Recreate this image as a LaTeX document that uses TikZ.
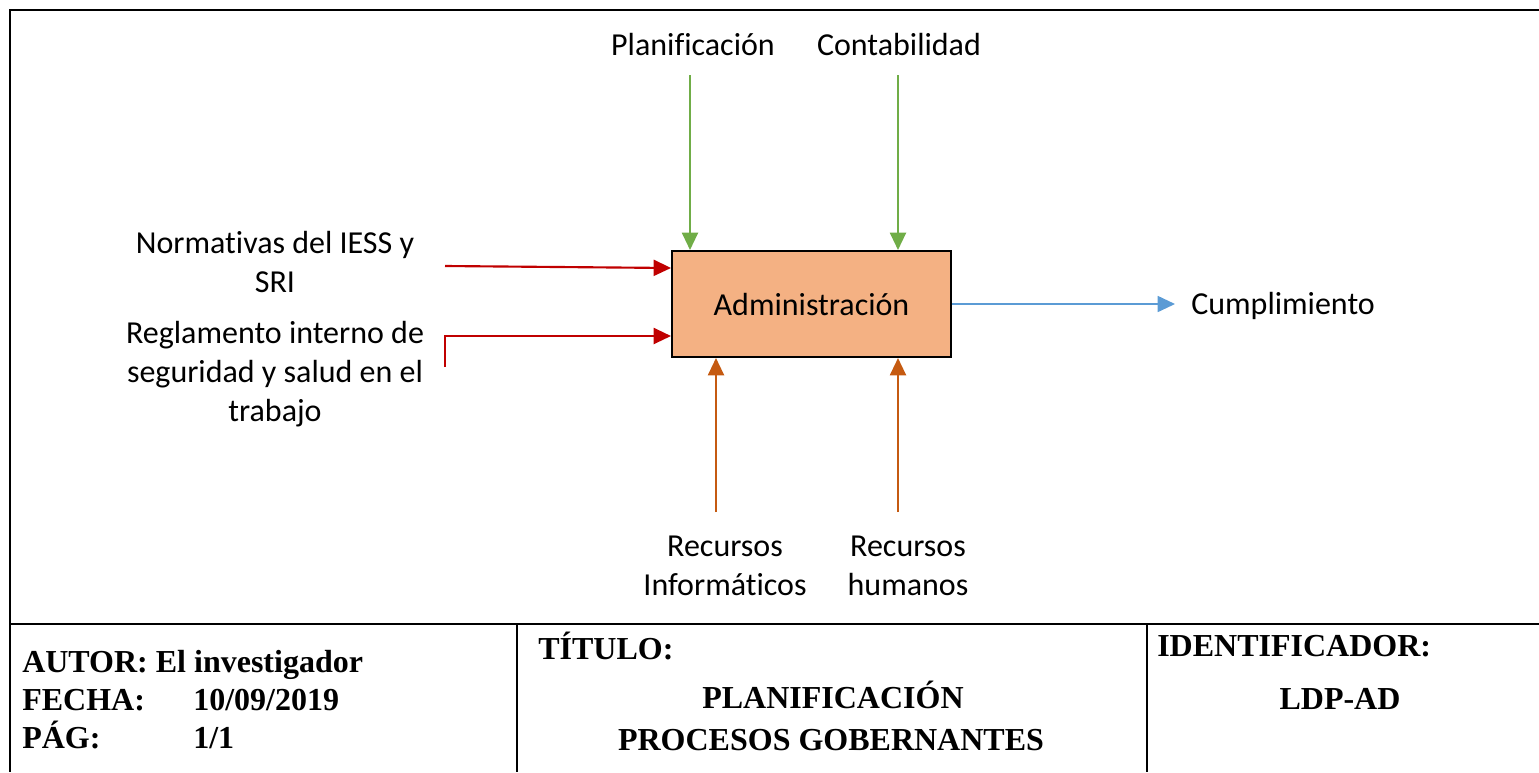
\documentclass[tikz,border=0pt]{standalone}
\usepackage{fontspec}
\setmainfont{Liberation Serif}
\newfontfamily\calibri[Ligatures=NoCommon]{Carlito}
\usepackage{tikz}
\usetikzlibrary{arrows.meta,positioning}
\definecolor{boxfill}{HTML}{F4B183}
\definecolor{ctrlgreen}{HTML}{70AD47}
\definecolor{inred}{HTML}{C00000}
\definecolor{mechorange}{HTML}{C55A11}
\definecolor{outblue}{HTML}{5B9BD5}

\begin{document}
\begin{tikzpicture}[x=0.75pt, y=-0.75pt,
        lbl/.style={inner sep=0pt, align=center, font=\calibri\fontsize{24}{29.25}\selectfont},
        tbl/.style={inner sep=0pt, font=\bfseries\fontsize{24}{28.5}\selectfont},
        proc/.style={draw, line width=1.5pt, fill=boxfill, minimum width=279*0.75pt, minimum height=106*0.75pt, font=\calibri\fontsize{24}{29}\selectfont},
        ar/.style={-{Triangle[length=13pt, width=12pt]}, line width=1.6pt},
        frame/.style={line width=2.2pt}
    ]
        \useasboundingbox (0,0) rectangle (1539,772);
        % outer frame and table
        \draw[frame] (1539,10) -- (10,10) -- (10,772);
        \draw[frame] (10,624) -- (1539,624);
        \draw[line width=1pt] (517,624) -- (517,772);
        \draw[line width=1pt] (1147,624) -- (1147,772);

        \node (box) [proc] at (811.5,304) {Administración};

        \node (plan) [lbl] at (693,45) {Planificación};
        \node (cont) [lbl] at (899,45) {Contabilidad};
        \node (norm) [lbl] at (275,262) {Normativas del IESS y\\SRI};
        \node (regl) [lbl] at (275,374) {Reglamento interno de\\seguridad y salud en el\\trabajo};
        \node (cump) [lbl, anchor=west] at (1191,306) {Cumplimiento};
        \node (rinf) [lbl] at (725,566) {Recursos\\Informáticos};
        \node (rhum) [lbl] at (908,566) {Recursos\\humanos};

        % free ends of the arrows
        \coordinate (g1) at (690,75);
        \coordinate (g2) at (898,75);
        \coordinate (r1) at (445,266);
        \coordinate (r2) at (445,367);
        \coordinate (o1) at (716,512);
        \coordinate (o2) at (898,512);
        \coordinate (b1) at (1175,304);

        \draw[ar, ctrlgreen] (g1) -- (g1 |- box.north);
        \draw[ar, ctrlgreen] (g2) -- (g2 |- box.north);
        \draw[ar, inred] (r1) -- ([yshift=-2*0.75pt]box.west |- r1);
        \draw[ar, inred] (r2) |- ([yshift=-32*0.75pt]box.west);
        \draw[ar, mechorange] (o1) -- (o1 |- box.south);
        \draw[ar, mechorange] (o2) -- (o2 |- box.south);
        \draw[ar, outblue, line width=1.3pt] (box.east) -- (b1);

        % table texts
        \node (autor) [tbl, anchor=base west] at (22,672) {AUTOR: El investigador};
        \node (fecha) [tbl, anchor=base west] at (22,710) {FECHA:};
        \node (fval) [tbl, anchor=base west] at (193,710) {10/09/2019};
        \node (pag) [tbl, anchor=base west] at (22,748) {PÁG:};
        \node (pval) [tbl, anchor=base west] at (193,748) {1/1};
        \node (titulo) [tbl, anchor=west] at (538,646) {TÍTULO:};
        \node (t1) [tbl] at (833,695) {PLANIFICACIÓN};
        \node (t2) [tbl] at (831,740) {PROCESOS GOBERNANTES};
        \node (ident) [tbl, anchor=west] at (1157,646) {IDENTIFICADOR:};
        \node (code) [tbl] at (1340,699) {LDP-AD};
\end{tikzpicture}
\end{document}
